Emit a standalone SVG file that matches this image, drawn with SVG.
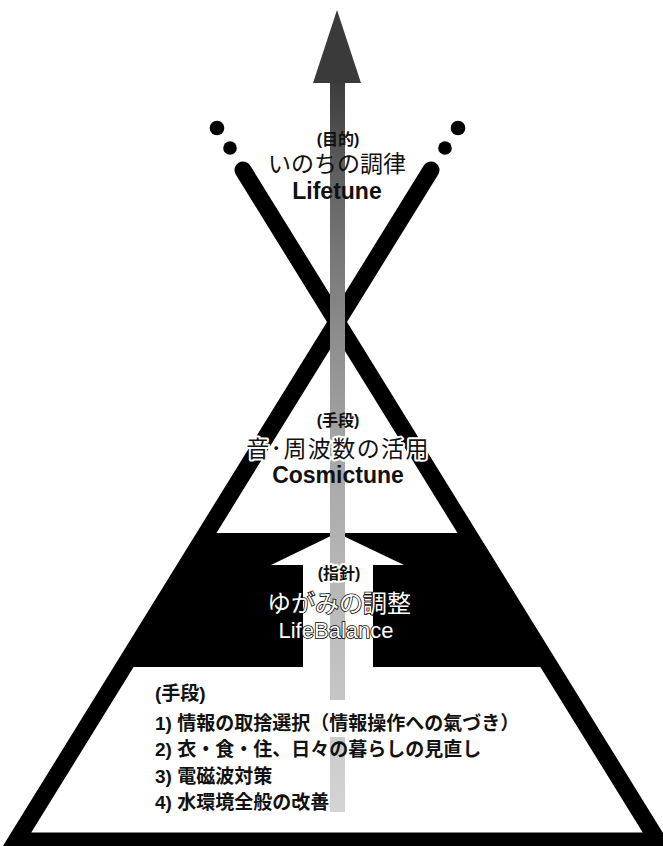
<svg xmlns="http://www.w3.org/2000/svg" width="663" height="846" viewBox="0 0 663 846">
<defs>
<linearGradient id="barGrad" gradientUnits="userSpaceOnUse" x1="0" y1="83" x2="0" y2="812">
<stop offset="0" stop-color="#3c3c3c"/>
<stop offset="0.15" stop-color="#666"/>
<stop offset="0.33" stop-color="#8a8a8a"/>
<stop offset="0.5" stop-color="#a6a6a6"/>
<stop offset="1" stop-color="#d4d4d4"/>
</linearGradient>
<style>
.edge{fill:none;stroke:#000;stroke-width:17;stroke-linejoin:miter}
.leg{stroke:#000;stroke-width:17;stroke-linecap:round}
.jp{font-family:"Liberation Sans","Noto Sans CJK JP",sans-serif;text-anchor:middle}
.sm{font-size:16px;font-weight:bold;fill:#111}
.big{font-size:23px;fill:#111}
.lat{font-size:23px;font-weight:bold;fill:#111}
.out{fill:#fff;stroke:#000;stroke-width:1.6;paint-order:stroke}
.halo{stroke:#fff;stroke-width:4;stroke-linejoin:round;paint-order:stroke}
.list{font-family:"Liberation Sans","Noto Sans CJK JP",sans-serif;font-size:19px;font-weight:bold;fill:#111}
</style>
</defs>
<rect width="663" height="846" fill="#fff"/>
<g id="band">
<polygon points="206.6,533 467.4,533 550.2,667 123.8,667" fill="#000"/>
<polygon points="303,667 303,565 271,565 337,533 404,565 373,565 373,667" fill="#fff"/>
</g>
<g id="triangle">
<polygon class="edge" points="337,322 658,841 16,841"/>
<line class="leg" x1="243" y1="170" x2="337" y2="322"/>
<line class="leg" x1="431" y1="170" x2="337" y2="322"/>
</g>
<g id="dots" fill="#000">
<circle cx="217" cy="128" r="7.3"/>
<circle cx="230" cy="148" r="6.8"/>
<circle cx="458" cy="128" r="7.3"/>
<circle cx="445" cy="148" r="6.8"/>
</g>
<g id="connectors">
<rect x="330" y="82" width="15" height="730" fill="url(#barGrad)"/>
<rect x="326" y="700" width="23" height="37" fill="#fff"/>
<polygon points="337,10 361,83 313,83" fill="#3a3a3a"/>
</g>
<g id="label-top">
<text class="jp sm" x="338" y="145">(目的)</text>
<text class="jp big" x="337" y="172">いのちの調律</text>
<text class="jp lat" x="337" y="199">Lifetune</text>
</g>
<g id="label-mid">
<text class="jp sm" x="338" y="426">(手段)</text>
<text class="jp big halo" x="338" y="457" letter-spacing="1.4">音･周波数の活用</text>
<text class="jp lat" x="338" y="483">Cosmictune</text>
</g>
<g id="label-band">
<text class="jp sm halo" x="339" y="579">(指針)</text>
<text class="jp out" x="339" y="612" font-size="24">ゆがみの調整</text>
<text class="jp out" x="336" y="638" font-size="22">LifeBalance</text>
</g>
<g id="label-bottom">
<text class="list" x="155" y="700" font-size="15">(手段)</text>
<text class="list" x="155" y="730">1) 情報の取捨選択（情報操作への氣づき）</text>
<text class="list" x="155" y="756">2) 衣・食・住、日々の暮らしの見直し</text>
<text class="list" x="155" y="783">3) 電磁波対策</text>
<text class="list" x="155" y="809">4) 水環境全般の改善</text>
</g>
</svg>
